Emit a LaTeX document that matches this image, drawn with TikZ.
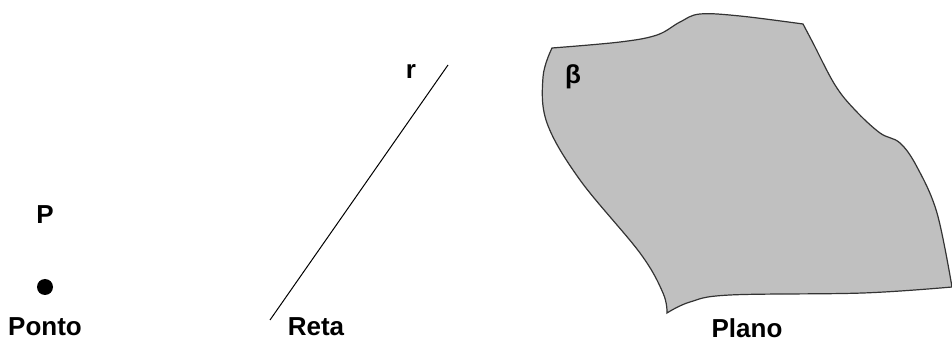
\documentclass[tikz,border=0pt]{standalone}
\usepackage{fontspec}
\setmainfont{Liberation Sans}
\usepackage{tikz}
\usetikzlibrary{positioning}

\definecolor{planegray}{RGB}{192,192,192}

\begin{document}
\begin{tikzpicture}[
  x=0.5pt, y=-0.5pt,
  font=\bfseries\fontsize{13}{15}\selectfont,
  lbl/.style={inner sep=0pt, anchor=center},
  ponto/.style={circle, fill=black, minimum size=8pt, inner sep=0pt},
  reta/.style={line width=0.5pt},
  plano/.style={draw=black!80, line width=0.6pt, fill=planegray},
]
  \useasboundingbox (0,0) rectangle (952,341);

  % ponto
  \node[lbl] (p) at (45,215) {P};
  \node[ponto] (dot) at (45,287) {};
  \node[lbl] (ponto) at (45,327) {Ponto};

  % reta
  \coordinate (ra) at (270,320);
  \coordinate (rb) at (448,65);
  \draw[reta] (ra) -- (rb);
  \node[lbl] (r) at (411,72) {r};
  \node[lbl] (reta) at (316,327) {Reta};

  % plano
  \draw[plano] (552,48)
    -- plot[smooth, tension=0.6] coordinates {(552,48) (620,42) (657,35) (680,22) (700,14) (740,16) (803,24)}
    -- plot[smooth, tension=0.6] coordinates {(803,24) (813,43) (835,85) (855,110) (880,133) (900,143) (917,167) (937,213) (952,287)}
    -- plot[smooth, tension=0.6] coordinates {(952,287) (863,293) (730,295) (690,302) (667,313)}
    -- plot[smooth, tension=0.6] coordinates {(667,313) (663,293) (640,253) (580,180) (547,123) (543,77) (552,48)}
    -- cycle;
  \node[lbl] (beta) at (573,77) {β};
  \node[lbl] (plano) at (747,328) {Plano};
\end{tikzpicture}
\end{document}
